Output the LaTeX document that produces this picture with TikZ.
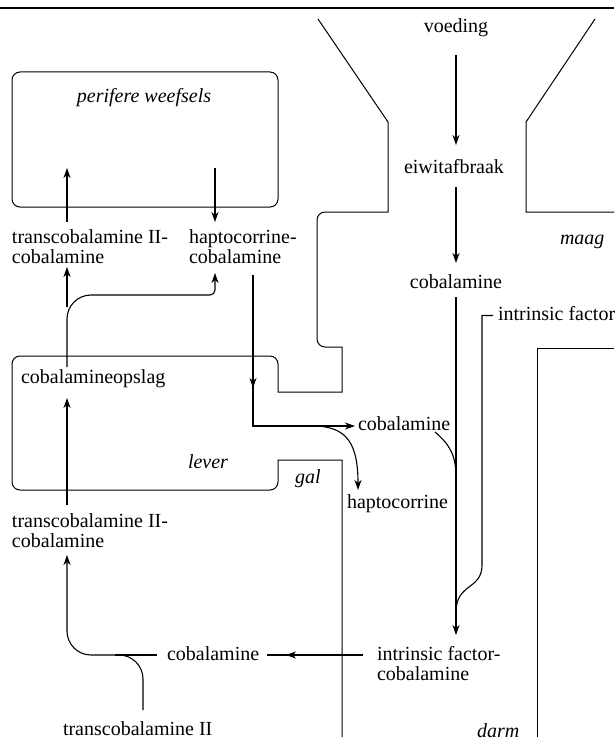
\documentclass[tikz,border=0pt]{standalone}
\usepackage{fontspec}
\setmainfont{Liberation Serif}
\usetikzlibrary{arrows.meta}
\begin{document}
\begin{tikzpicture}[x=1pt,y=-1pt,
  lbl/.style={inner sep=0pt, outer sep=0pt, font=\fontsize{20}{20}\selectfont, text height=14pt, text depth=5pt},
  ml/.style={inner sep=0pt, outer sep=0pt, font=\fontsize{20}{20}\selectfont},
  organ/.style={lbl, font=\fontsize{20}{20}\selectfont\itshape},
  wall/.style={line width=1pt, line join=miter},
  flow/.style={line width=1.1pt},
  arr/.style={flow, -{Stealth[length=10pt,width=7pt,inset=3pt]}},
]
\useasboundingbox (0,0) rectangle (614,746);
% rule
\draw[line width=1.3pt] (0,8) -- (614,8);
% text
\node[organ, anchor=base] (perif) at (144,103) {perifere weefsels};
\node[lbl, anchor=base] (voeding) at (456,33) {voeding};
\node[lbl, anchor=base] (eiwit) at (454,173) {eiwitafbraak};
\node[lbl, anchor=base] (cobA) at (456,288) {cobalamine};
\node[lbl, anchor=base west] (if) at (498,320) {intrinsic factor};
\node[lbl, anchor=base west] (cobB) at (358,430) {cobalamine};
\node[lbl, anchor=base west] (hapto) at (347,508) {haptocorrine};
\node[ml, anchor=base west] (ifc) at (377,660) {\begin{tabular}[t]{@{}l@{}}intrinsic factor-\\cobalamine\end{tabular}};
\node[lbl, anchor=base west] (cobC) at (167,660) {cobalamine};
\node[lbl, anchor=base west] (tc) at (63,735) {transcobalamine II};
\node[ml, anchor=base west] (tccobB) at (12,527) {\begin{tabular}[t]{@{}l@{}}transcobalamine II-\\cobalamine\end{tabular}};
\node[lbl, anchor=base west] (opslag) at (21,383) {cobalamineopslag};
\node[ml, anchor=base west] (tccobA) at (12,243) {\begin{tabular}[t]{@{}l@{}}transcobalamine II-\\cobalamine\end{tabular}};
\node[ml, anchor=base west] (hcob) at (189,243) {\begin{tabular}[t]{@{}l@{}}haptocorrine-\\cobalamine\end{tabular}};
\node[organ, anchor=base west] (lever) at (188,468) {lever};
\node[organ, anchor=base west] (gal) at (295,483) {gal};
\node[organ, anchor=base west] (maag) at (560,244) {maag};
\node[organ, anchor=base west] (darm) at (477,737) {darm};
% organ outlines
\draw[wall, rounded corners=8pt] (12,72) rectangle (278,207);
\draw[wall] (318,19) -- (388,122) -- (388,212)
  [rounded corners=8pt] -- (317,212) -- (317,347)
  [sharp corners] -- (342,347) -- (342,392) -- (278,392)
  [rounded corners=8pt] -- (278,356) -- (12,356) -- (12,490) -- (278,490)
  [sharp corners] -- (278,460) -- (342,460) -- (342,737);
\draw[wall] (595,19) -- (526,122) -- (526,212) -- (614,212);
\draw[wall] (614,348) -- (537,348) -- (537,737);
% connectors
\draw[arr] (voeding.south |- 0,55) -- (voeding.south |- 0,145);
\draw[arr] (voeding.south |- 0,187) -- (voeding.south |- 0,263);
\draw[arr] (voeding.south |- 0,297) -- (voeding.south |- 0,635);
\draw[flow] ([xshift=-5pt]if.west) -- (if.west -| 482,0) -- (482,565) .. controls (482,590) and (456,583) .. (456,612);
\draw[flow] (435,432) .. controls (450,445) and (456,455) .. (456,478);
\draw[arr] (253,275) -- (253,388);
\draw[arr] (253,382) -- (253,426) -- (355,426);
\draw[arr] (313,426) .. controls (348,426) and (358,445) .. (358,490);
\draw[arr] (67,367) [rounded corners=24pt] -- (67,295) [rounded corners=5pt] -- (215,295) [sharp corners] -- (215,273);
\draw[arr] (67,307) -- (67,267);
\draw[arr] (67,222) -- (67,168);
\draw[arr] (215,168) -- (215,222);
\draw[arr] (67,505) -- (67,398);
\draw[arr] (143,710) [rounded corners=24pt] -- (143,655) -- (67,655) -- (67,555);
\draw[flow] (cobC.west |- 0,655) ++(-10,0) -- (115,655);
\draw[flow] (363,655) -- (267,655);
\draw[arr] (300,655) -- (286,655);
\end{tikzpicture}
\end{document}
